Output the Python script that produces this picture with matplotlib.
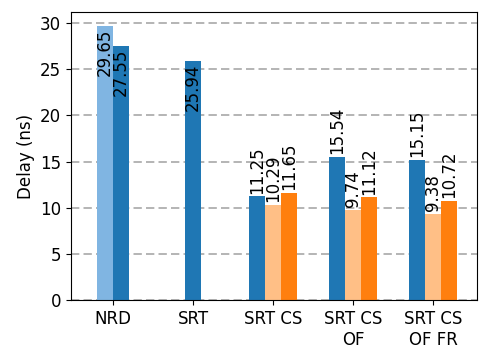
import matplotlib
matplotlib.use('Agg')
import matplotlib.pyplot as plt

# Datos
grupos = ['NRD', 'SRT', 'SRT CS', 'SRT CS\nOF', 'SRT CS\nOF FR']
nrd = [29.65, 27.55]
srt = [25.94]
srt_cs = [11.25, 10.29, 11.65]
srt_cs_of = [15.54, 9.74, 11.12]
srt_cs_of_fr = [15.15, 9.38, 10.72]

azul = '#1f77b4'
azul_claro = '#80b5e2'
naranja = '#ff7f0e'
naranja_claro = '#ffbf86'

ancho = 0.2
# cada grupo: (posición, desplazamientos, valores, colores)
series = [
    (0, [-0.1, 0.1], nrd, [azul_claro, azul]),
    (1, [0.0], srt, [azul]),
    (2, [-0.2, 0.0, 0.2], srt_cs, [azul, naranja_claro, naranja]),
    (3, [-0.2, 0.0, 0.2], srt_cs_of, [azul, naranja_claro, naranja]),
    (4, [-0.2, 0.0, 0.2], srt_cs_of_fr, [azul, naranja_claro, naranja]),
]

plt.rcParams['font.size'] = 12
fig, ax = plt.subplots(figsize=(4.89, 3.63), dpi=100)

for pos, offs, vals, cols in series:
    for o, v, c in zip(offs, vals, cols):
        ax.bar(pos + o, v, width=ancho, color=c, zorder=2)
        # etiquetas dentro de la barra si es alta, encima si no
        if v > 20:
            ax.text(pos + o, v - 0.3, f'{v:.2f}', rotation=90, ha='center', va='top')
        else:
            ax.text(pos + o, v + 0.3, f'{v:.2f}', rotation=90, ha='center', va='bottom')

ax.set_xticks(range(len(grupos)))
ax.set_xticklabels(grupos)
ax.set_xlim(-0.525, 4.55)
ax.set_ylim(0, 31.2)
ax.set_yticks([0, 5, 10, 15, 20, 25, 30])
ax.set_ylabel('Delay (ns)')
ax.yaxis.grid(True, linestyle=(0, (5, 2.5)), linewidth=1.2, color='#a8a8a8', zorder=0)
ax.set_axisbelow(True)

plt.subplots_adjust(left=0.145, right=0.976, top=0.967, bottom=0.173)
plt.savefig('out.png', dpi=100)
